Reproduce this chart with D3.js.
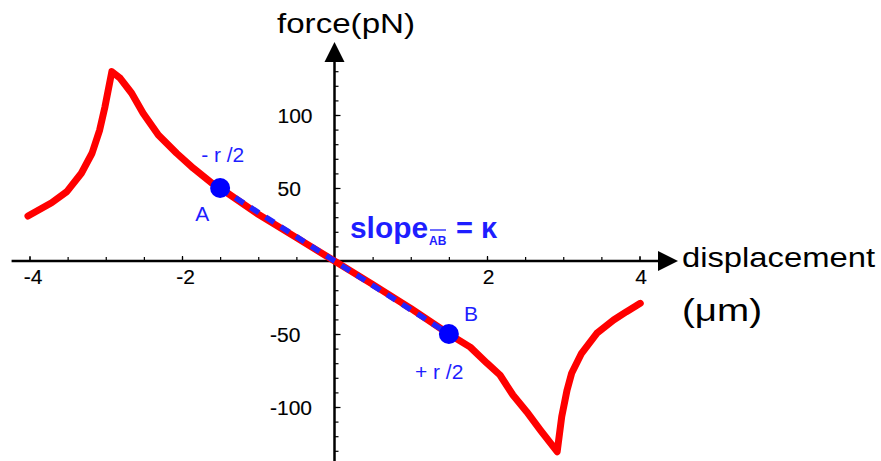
<!DOCTYPE html>
<html>
<head>
<meta charset="utf-8">
<script src="https://cdn.jsdelivr.net/npm/d3@7"></script>
<style>
  html, body { margin: 0; padding: 0; background: #fff; }
  svg { display: block; font-family: "Liberation Sans", Arial, sans-serif; }
</style>
</head>
<body>
<svg id="chart" width="881" height="461"></svg>
<script>
// ---- data ----
const curveX = [-4.02,-3.71,-3.51,-3.32,-3.18,-3.08,-3.01,-2.92,-2.81,-2.66,-2.51,-2.31,-2.07,-1.85,-1.61,-1.5,-1.0,-0.5,0,0.5,1.0,1.5,1.78,2.0,2.17,2.34,2.52,2.70,2.92,2.98,3.05,3.11,3.24,3.44,3.66,3.83,4.01];
const curveY = [30.8,39.9,47.5,60.1,73.8,89.7,105.7,129.7,125.1,114.9,101.2,86.3,73.8,63.5,53.5,50,32,16,0,-16,-32.5,-50,-59,-70,-78.1,-91.8,-103.2,-115.8,-130.6,-106.6,-88.4,-76.9,-63.2,-49.5,-40.4,-34.7,-29];
const pointLabels = ["A", "B"];
const pointX = [-1.5, 1.5];
const pointY = [50, -50];
const xTickLabels = [-4, -2, 2, 4];
const xMinorTicks = [-4,-3.5,-3,-2.5,-2,-1.5,-1,-0.5,0.5,1,1.5,2,2.5,3,3.5,4];
const yTickLabels = [100, 50, -50, -100];
const yMinorTicks = d3.range(-130, 131, 10).filter(v => v !== 0);

const svg = d3.select("#chart");
const x = d3.scaleLinear().domain([-4, 4]).range([29.5, 639.5]);
const y = d3.scaleLinear().domain([-100, 100]).range([407, 115]);
const fmt = d => String(d).replace("\u2212", "-");

// ---- axes ----
const axW = 2.5;
svg.append("line").attr("x1", x(-4.235)).attr("x2", x(4.25))
  .attr("y1", y(0)).attr("y2", y(0)).attr("stroke", "#000").attr("stroke-width", axW);
svg.append("line").attr("x1", x(0)).attr("x2", x(0))
  .attr("y1", y(-140)).attr("y2", y(136.5)).attr("stroke", "#000").attr("stroke-width", axW);
svg.append("path").attr("d", `M${x(4.243)},${y(0)-10}L${x(4.505)},${y(0)}L${x(4.243)},${y(0)+10}Z`).attr("fill", "#000");
svg.append("path").attr("d", `M${x(0)-10},${y(136.3)}L${x(0)},${y(150)}L${x(0)+10},${y(136.3)}Z`).attr("fill", "#000");

const gx = svg.append("g").attr("transform", `translate(0,${y(0)})`)
  .call(d3.axisBottom(x).tickValues(xMinorTicks).tickSizeInner(-4).tickSizeOuter(0).tickFormat(""));
gx.select(".domain").remove();
gx.selectAll("line").attr("stroke-width", 1.2);
const gxl = svg.append("g").attr("transform", `translate(0,${y(0)})`)
  .call(d3.axisBottom(x).tickValues(xTickLabels).tickSizeInner(-5).tickSizeOuter(0).tickPadding(8).tickFormat(fmt));
gxl.select(".domain").remove();
gxl.selectAll("line").attr("stroke-width", 1.2);
gxl.selectAll("text").attr("font-size", 21).attr("font-family", "Liberation Sans, Arial, sans-serif")
  .attr("fill", "#000").attr("stroke", "#000").attr("stroke-width", 0.15)
  .attr("dx", d => d < 0 ? 3 : 1);

const gy = svg.append("g").attr("transform", `translate(${x(0)},0)`)
  .call(d3.axisLeft(y).tickValues(yMinorTicks).tickSizeInner(-4).tickSizeOuter(0).tickFormat(""));
gy.select(".domain").remove();
gy.selectAll("line").attr("stroke-width", 1.2);
const gyl = svg.append("g").attr("transform", `translate(${x(0)},0)`)
  .call(d3.axisLeft(y).tickValues(yTickLabels).tickSizeInner(-6).tickSizeOuter(0).tickFormat(fmt));
gyl.select(".domain").remove();
gyl.selectAll("line").attr("stroke-width", 1.2);
gyl.selectAll("text").attr("font-size", 21).attr("font-family", "Liberation Sans, Arial, sans-serif")
  .attr("fill", "#000").attr("stroke", "#000").attr("stroke-width", 0.15)
  .attr("text-anchor", "start")
  .attr("x", d => d < 0 ? -64.5 : -57).attr("dy", "0.35em");

// axis titles
const tg = svg.append("g").attr("fill", "#000");
tg.append("text").attr("x", 277).attr("y", 33).attr("font-size", 28)
  .attr("textLength", 138).attr("lengthAdjust", "spacingAndGlyphs").text("force(pN)");
tg.append("text").attr("x", 682).attr("y", 267).attr("font-size", 27.5)
  .attr("textLength", 193).attr("lengthAdjust", "spacingAndGlyphs").text("displacement");
tg.append("text").attr("x", 682).attr("y", 321).attr("font-size", 31)
  .attr("textLength", 80).attr("lengthAdjust", "spacingAndGlyphs").text("(\u03bcm)");

// ---- curve ----
const pts = curveX.map((v, i) => [v, curveY[i]]);
const line = d3.line().x(d => x(d[0])).y(d => y(d[1]));
svg.append("path").datum(pts).attr("d", line)
  .attr("fill", "none").attr("stroke", "#ff0000").attr("stroke-width", 7)
  .attr("stroke-linejoin", "round").attr("stroke-linecap", "round");

const ab = pointX.map((v, i) => [v, pointY[i]]);
svg.append("path").datum(ab).attr("d", line)
  .attr("fill", "none").attr("stroke", "#2424ff").attr("stroke-width", 5.5)
  .attr("stroke-dasharray", "10,8");

svg.selectAll("circle.pt").data(ab).enter().append("circle")
  .attr("cx", d => x(d[0])).attr("cy", d => y(d[1])).attr("r", 10).attr("fill", "#0000ff");

// annotations
const blue = "#1e1eff";
const ag = svg.append("g").attr("fill", blue).attr("font-size", 21);
ag.append("text").attr("x", x(pointX[0]) - 19).attr("y", y(pointY[0]) - 26).text("- r /2");
ag.append("text").attr("x", x(pointX[0]) - 25).attr("y", y(pointY[0]) + 33).text(pointLabels[0]);
ag.append("text").attr("x", x(pointX[1]) + 15).attr("y", y(pointY[1]) - 13).text(pointLabels[1]);
ag.append("text").attr("x", x(pointX[1]) - 34).attr("y", y(pointY[1]) + 45).text("+ r /2");

const sg = svg.append("g").attr("fill", blue).attr("font-weight", "bold");
sg.append("text").attr("x", 350).attr("y", 238).attr("font-size", 29)
  .attr("textLength", 78).attr("lengthAdjust", "spacingAndGlyphs").text("slope");
sg.append("text").attr("x", 429).attr("y", 245).attr("font-size", 12).text("AB");
sg.append("line").attr("x1", 430).attr("x2", 446).attr("y1", 230).attr("y2", 230)
  .attr("stroke", blue).attr("stroke-width", 1.3);
sg.append("text").attr("x", 456).attr("y", 238).attr("font-size", 29).text("= \u03ba");
</script>
</body>
</html>
